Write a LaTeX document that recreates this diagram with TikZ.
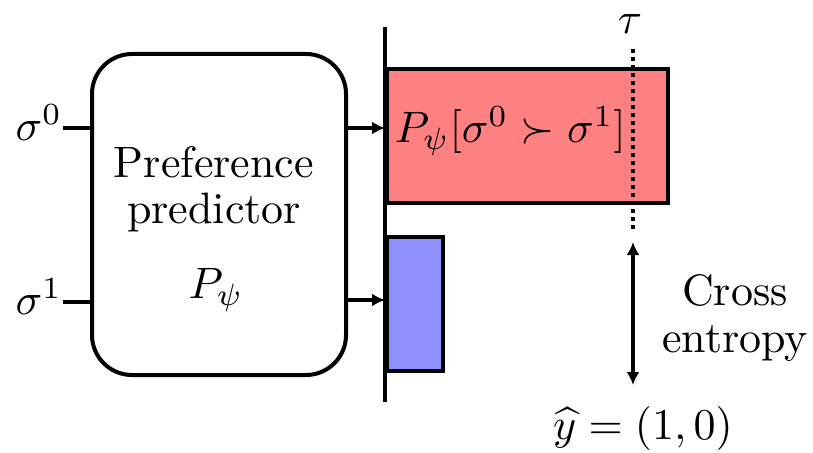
\documentclass[tikz,border=0pt]{standalone}
\usetikzlibrary{arrows.meta}
\definecolor{redbar}{RGB}{255,128,128}
\definecolor{bluebar}{RGB}{143,143,255}
\begin{document}
\begin{tikzpicture}[x=1pt,y=-1pt,
  txt/.style={inner sep=0pt, scale=4.4},
  thickline/.style={line width=4pt},
  arr/.style={thickline,-{Latex[length=13pt,width=13pt]}},
  darr/.style={thickline,{Latex[length=13pt,width=13pt]}-{Latex[length=13pt,width=13pt]}},
  predbox/.style={thickline,draw,rounded corners=40pt,fill=white,inner sep=0pt},
  bar/.style={thickline,draw,inner sep=0pt}]
\useasboundingbox (0,0) rectangle (813,452);
% predictor box
\node[predbox,minimum width=254pt,minimum height=321pt,anchor=north west] (box) at (90,52) {};
\node[txt,align=center] (lbl) at (214,189) {Preference\\[-1.5pt]predictor};
\node[txt] (pp) at (216,290) {$P_\psi$};
% inputs
\node[txt,anchor=east] (s0) at (63,123) {$\sigma^0$};
\node[txt,anchor=east] (s1) at (63,297) {$\sigma^1$};
\coordinate (in0) at (90,128);
\coordinate (in1) at (90,302);
\draw[thickline] (s0.east |- in0) -- (in0);
\draw[thickline] (s1.east |- in1) -- (in1);
% axis
\coordinate (axtop) at (385,27);
\coordinate (axbot) at (385,402);
% bars
\node[bar,fill=redbar,minimum width=281pt,minimum height=134pt,anchor=north west] (rbar) at (385,67) {};
\node[bar,fill=bluebar,minimum width=56pt,minimum height=134pt,anchor=north west] (bbar) at (385,235) {};
\draw[thickline] (axtop) -- (axbot);
% outputs
\coordinate (out0) at (385,128);
\coordinate (out1) at (385,300);
\draw[arr] (box.east |- out0) -- (out0);
\draw[arr] (box.east |- out1) -- (out1);
\node[txt,anchor=west] (pref) at (394,131) {$P_\psi[\sigma^0\succ\sigma^1]$};
% tau
\node[txt] (tau) at (630,24) {$\tau$};
\coordinate (ttop) at (633,49);
\coordinate (tbot) at (633,232);
\draw[line width=4.5pt,dash pattern=on 4pt off 4pt] (ttop) -- (tbot);
% cross entropy
\coordinate (ce1) at (633,242);
\coordinate (ce2) at (633,385);
\draw[darr] (ce1) -- (ce2);
\node[txt,align=center] (ce) at (735,318) {Cross\\[-1.5pt]entropy};
\node[txt] (yhat) at (643,428) {$\widehat{y}=(1,0)$};
\end{tikzpicture}
\end{document}
